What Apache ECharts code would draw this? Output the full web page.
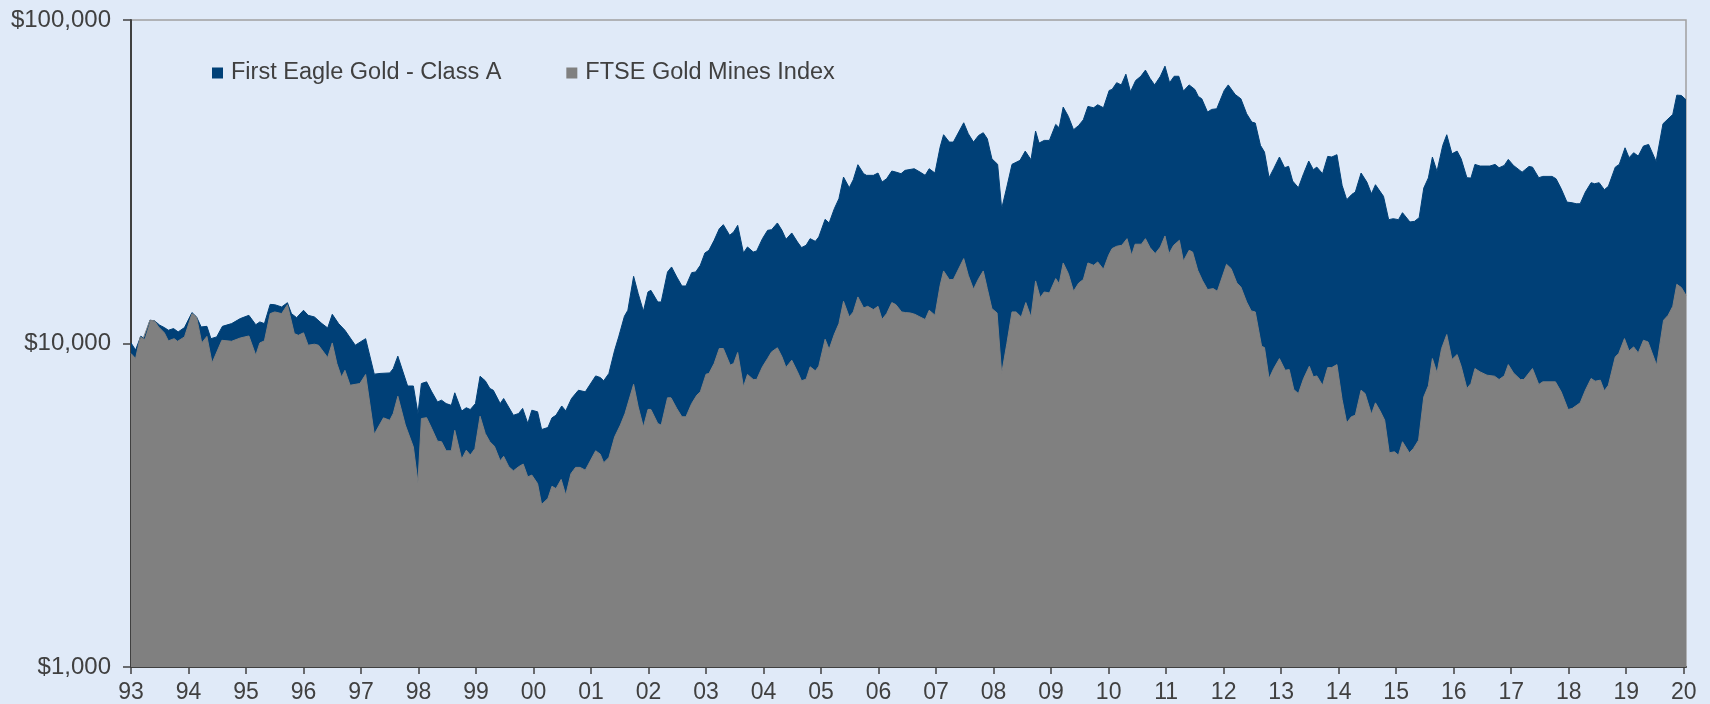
<!DOCTYPE html>
<html>
<head>
<meta charset="utf-8">
<script src="https://cdn.jsdelivr.net/npm/echarts@6/dist/echarts.min.js"></script>
<style>
  html, body { margin: 0; padding: 0; background: #e0eaf8; }
  #chart { width: 1710px; height: 704px; }
</style>
</head>
<body>
<div id="chart"></div>
<script>
// growth of $10,000, [year, value]
var firstEagle = [
  [1993.00,10040],[1993.08,9550],[1993.17,10530],[1993.23,10360],[1993.33,11800],[1993.41,11750],[1993.50,11390],[1993.58,11200],
  [1993.65,10990],[1993.74,11120],[1993.82,10860],[1993.93,11200],[1994.06,12460],[1994.14,12080],[1994.22,11250],[1994.32,11300],
  [1994.39,10350],[1994.49,10480],[1994.59,11300],[1994.75,11520],[1994.90,11940],[1995.05,12220],[1995.17,11430],[1995.24,11660],
  [1995.32,11520],[1995.42,13210],[1995.50,13180],[1995.62,12970],[1995.72,13370],[1995.79,12370],[1995.88,12020],[1996.00,12670],
  [1996.08,12220],[1996.19,12080],[1996.32,11520],[1996.42,11170],[1996.50,12310],[1996.61,11520],[1996.72,10990],[1996.90,9880],
  [1997.08,10350],[1997.23,8040],[1997.33,8080],[1997.50,8110],[1997.56,8360],[1997.64,9140],[1997.81,7390],[1997.91,7390],
  [1997.99,6075],[1998.05,7520],[1998.14,7610],[1998.23,7090],[1998.33,6600],[1998.40,6680],[1998.48,6520],[1998.57,6440],
  [1998.63,7040],[1998.75,6180],[1998.83,6330],[1998.90,6250],[1998.99,6520],[1999.07,7920],[1999.16,7670],[1999.24,7260],
  [1999.30,7170],[1999.42,6520],[1999.48,6760],[1999.65,6000],[1999.74,6075],[1999.81,6300],[1999.90,5660],[1999.97,6220],
  [2000.07,6150],[2000.14,5420],[2000.25,5500],[2000.32,5890],[2000.39,6000],[2000.49,6410],[2000.56,6190],[2000.66,6760],
  [2000.78,7170],[2000.90,7090],[2001.08,7940],[2001.16,7850],[2001.22,7670],[2001.31,8080],[2001.41,9530],[2001.48,10480],
  [2001.58,12140],[2001.64,12670],[2001.74,16130],[2001.82,14260],[2001.91,12580],[2001.99,14430],[2002.04,14600],[2002.16,13440],
  [2002.22,13440],[2002.33,16640],[2002.40,17240],[2002.49,16060],[2002.58,15060],[2002.65,15060],[2002.75,16560],[2002.82,16640],
  [2002.90,17450],[2002.98,19050],[2003.05,19410],[2003.14,20840],[2003.23,22640],[2003.30,23300],[2003.41,21600],[2003.48,22120],
  [2003.55,23190],[2003.65,19050],[2003.72,19880],[2003.82,19180],[2003.88,19320],[2003.98,21090],[2004.07,22380],[2004.14,22480],
  [2004.24,23580],[2004.32,22380],[2004.39,20990],[2004.49,21960],[2004.59,20590],[2004.66,19790],[2004.74,20120],[2004.81,21090],
  [2004.90,20690],[2004.96,21340],[2005.07,24200],[2005.14,23580],[2005.23,26110],[2005.31,28030],[2005.39,32690],[2005.49,30310],
  [2005.56,32080],[2005.64,35700],[2005.74,33490],[2005.79,33100],[2005.91,33100],[2005.99,33650],[2006.06,31560],[2006.14,32320],
  [2006.23,34130],[2006.30,33880],[2006.39,33490],[2006.46,34290],[2006.62,34690],[2006.72,33880],[2006.81,33100],[2006.88,34690],
  [2006.98,33640],[2007.07,40470],[2007.13,44190],[2007.23,41940],[2007.30,41940],[2007.48,48120],[2007.56,44500],[2007.65,41940],
  [2007.74,43980],[2007.82,44820],[2007.89,42950],[2007.97,37250],[2008.07,35790],[2008.14,26110],[2008.23,30460],[2008.32,35790],
  [2008.46,36820],[2008.55,39330],[2008.65,36990],[2008.73,45350],[2008.79,41640],[2008.88,42440],[2008.97,42440],[2009.08,47560],
  [2009.14,46440],[2009.21,53800],[2009.30,50350],[2009.39,45790],[2009.48,47210],[2009.56,49160],[2009.64,54050],[2009.74,53540],
  [2009.81,54700],[2009.91,53540],[2010.01,60560],[2010.06,61000],[2010.14,64000],[2010.22,63000],[2010.30,68000],[2010.38,60000],
  [2010.47,65000],[2010.56,67000],[2010.64,70000],[2010.72,66000],[2010.80,63000],[2010.90,67000],[2010.98,72000],[2011.06,64000],
  [2011.14,67000],[2011.22,67000],[2011.30,60300],[2011.40,63000],[2011.50,61000],[2011.56,58030],[2011.62,57070],[2011.72,51920],
  [2011.79,52910],[2011.88,53160],[2012.01,60560],[2012.08,63000],[2012.20,58870],[2012.30,57070],[2012.40,51310],[2012.49,48360],
  [2012.55,48020],[2012.64,40970],[2012.71,39060],[2012.79,32550],[2012.87,34700],[2012.97,37710],[2013.06,34950],[2013.13,35280],
  [2013.20,31780],[2013.30,30310],[2013.39,33490],[2013.48,36640],[2013.56,34450],[2013.62,35100],[2013.72,33490],[2013.81,37880],
  [2013.88,37710],[2013.97,38340],[2014.06,30820],[2014.14,27830],[2014.23,28910],[2014.29,29390],[2014.39,33650],[2014.49,31560],
  [2014.57,29040],[2014.64,30960],[2014.78,28500],[2014.87,24140],[2014.95,24310],[2015.04,24140],[2015.11,25370],[2015.24,23750],
  [2015.32,23860],[2015.40,24490],[2015.48,30240],[2015.56,32500],[2015.63,37690],[2015.71,34040],[2015.81,40950],[2015.88,44190],
  [2015.97,38590],[2016.06,39330],[2016.13,37240],[2016.23,32540],[2016.30,32460],[2016.37,35780],[2016.46,35360],[2016.63,35360],
  [2016.72,35780],[2016.79,34940],[2016.88,35520],[2016.95,37070],[2017.04,35520],[2017.19,33860],[2017.31,35260],[2017.37,35090],
  [2017.48,32540],[2017.55,32850],[2017.71,32850],[2017.78,32310],[2017.87,30090],[2017.97,27360],[2018.06,27230],[2018.13,27040],
  [2018.20,27040],[2018.29,29380],[2018.39,31410],[2018.45,31180],[2018.53,31410],[2018.62,29880],[2018.69,30600],[2018.81,35090],
  [2018.88,35780],[2018.98,40270],[2019.05,37510],[2019.13,38880],[2019.21,37960],[2019.30,40760],[2019.39,41250],[2019.52,36550],
  [2019.64,47780],[2019.81,51050],[2019.88,58580],[2019.96,58440],[2020.04,56670]
];

var ftseGoldMines = [
  [1993.00,9310],[1993.08,8990],[1993.16,10480],[1993.21,10350],[1993.33,11800],[1993.41,11750],[1993.48,11250],[1993.58,10790],
  [1993.65,10190],[1993.75,10350],[1993.81,10160],[1993.93,10480],[1994.06,12370],[1994.14,12080],[1994.23,10040],[1994.32,10520],
  [1994.41,8710],[1994.58,10230],[1994.75,10160],[1994.90,10400],[1995.05,10550],[1995.17,9200],[1995.24,10040],[1995.32,10190],
  [1995.42,12370],[1995.50,12520],[1995.62,12370],[1995.72,13180],[1995.84,10730],[1995.91,10600],[1996.00,10790],[1996.08,9880],
  [1996.19,9950],[1996.26,9880],[1996.42,9050],[1996.50,10040],[1996.58,8670],[1996.66,7880],[1996.72,8260],[1996.81,7430],
  [1996.98,7520],[1997.08,8020],[1997.23,5240],[1997.39,5890],[1997.50,5790],[1997.56,6075],[1997.64,6870],[1997.77,5600],
  [1997.91,4790],[1997.99,3720],[1998.05,5860],[1998.14,5900],[1998.23,5460],[1998.33,4990],[1998.40,4970],[1998.48,4660],
  [1998.57,4660],[1998.63,5390],[1998.75,4390],[1998.83,4680],[1998.90,4520],[1998.98,4730],[1999.07,5960],[1999.16,5270],
  [1999.24,4970],[1999.32,4810],[1999.42,4340],[1999.48,4480],[1999.57,4160],[1999.65,4040],[1999.74,4160],[1999.82,4240],
  [1999.90,3870],[1999.97,3920],[2000.07,3690],[2000.14,3180],[2000.25,3320],[2000.32,3620],[2000.39,3560],[2000.48,3800],
  [2000.56,3400],[2000.65,3960],[2000.73,4140],[2000.81,4140],[2000.90,4060],[2001.08,4660],[2001.16,4550],[2001.22,4280],
  [2001.31,4440],[2001.41,5145],[2001.51,5600],[2001.59,6075],[2001.74,7480],[2001.82,6370],[2001.91,5520],[2001.99,6254],
  [2002.04,6254],[2002.16,5658],[2002.22,5594],[2002.33,6795],[2002.39,6795],[2002.49,6300],[2002.58,5935],[2002.65,5935],
  [2002.75,6526],[2002.84,6925],[2002.90,7090],[2003.00,8040],[2003.05,8078],[2003.14,8675],[2003.23,9650],[2003.30,9650],
  [2003.42,8575],[2003.48,8675],[2003.55,9380],[2003.65,7345],[2003.72,8022],[2003.82,7742],[2003.88,7742],[2003.98,8472],
  [2004.07,8990],[2004.14,9425],[2004.24,9700],[2004.32,9096],[2004.39,8432],[2004.49,8882],[2004.59,8175],[2004.66,7669],
  [2004.74,7760],[2004.81,8472],[2004.90,8233],[2004.96,8511],[2005.07,10306],[2005.14,9595],[2005.23,10680],[2005.31,11520],
  [2005.39,13505],[2005.49,12080],[2005.56,12520],[2005.64,13930],[2005.74,12880],[2005.81,13030],[2005.91,12730],[2005.99,13030],
  [2006.06,11880],[2006.14,12370],[2006.23,13380],[2006.30,13190],[2006.40,12520],[2006.47,12460],[2006.55,12430],[2006.63,12310],
  [2006.72,12080],[2006.81,11860],[2006.88,12670],[2006.98,12230],[2007.07,15130],[2007.13,16760],[2007.23,15760],[2007.30,15760],
  [2007.48,18300],[2007.56,16250],[2007.65,14710],[2007.74,15870],[2007.82,16760],[2007.89,14780],[2007.97,12820],[2008.06,12430],
  [2008.14,8075],[2008.23,9995],[2008.32,12520],[2008.39,12520],[2008.48,12080],[2008.56,13380],[2008.65,12080],[2008.73,15610],
  [2008.81,13870],[2008.88,14430],[2008.97,14330],[2009.08,15870],[2009.14,15310],[2009.21,17740],[2009.30,16440],[2009.39,14500],
  [2009.48,15380],[2009.56,15760],[2009.64,17740],[2009.74,17450],[2009.81,17870],[2009.91,16960],[2010.00,18740],[2010.06,19650],
  [2010.14,19980],[2010.23,20120],[2010.32,21090],[2010.40,18740],[2010.46,20270],[2010.57,20270],[2010.64,21090],[2010.72,19790],
  [2010.81,18960],[2010.90,19880],[2010.98,21500],[2011.05,18950],[2011.13,20110],[2011.23,20840],[2011.30,17980],[2011.40,19410],
  [2011.46,19180],[2011.55,16840],[2011.63,15680],[2011.72,14680],[2011.82,14780],[2011.89,14500],[2012.05,17570],[2012.13,17040],
  [2012.23,15380],[2012.30,14950],[2012.40,13440],[2012.48,12610],[2012.55,12520],[2012.66,9806],[2012.71,9714],[2012.79,7792],
  [2012.87,8365],[2012.97,8981],[2013.07,8266],[2013.14,8305],[2013.22,7205],[2013.30,7003],[2013.39,7792],[2013.49,8503],
  [2013.56,7886],[2013.62,7941],[2013.72,7430],[2013.81,8424],[2013.88,8424],[2013.97,8606],[2014.06,6711],[2014.14,5685],
  [2014.22,5934],[2014.29,6004],[2014.39,7172],[2014.46,7003],[2014.57,6047],[2014.64,6554],[2014.72,6193],[2014.80,5795],
  [2014.88,4593],[2014.97,4626],[2015.04,4517],[2015.11,4969],[2015.23,4593],[2015.30,4737],[2015.39,5027],[2015.48,6839],
  [2015.56,7400],[2015.63,8984],[2015.71,8114],[2015.79,9650],[2015.88,10660],[2015.97,8923],[2016.06,9245],[2016.13,8506],
  [2016.23,7260],[2016.30,7521],[2016.37,8368],[2016.46,8171],[2016.58,7980],[2016.71,7924],[2016.79,7738],[2016.88,7942],
  [2016.95,8606],[2017.04,8111],[2017.16,7738],[2017.22,7738],[2017.37,8368],[2017.48,7469],[2017.55,7612],[2017.77,7612],
  [2017.87,7088],[2017.99,6251],[2018.06,6296],[2018.20,6555],[2018.29,7174],[2018.39,7795],[2018.46,7649],[2018.55,7702],
  [2018.62,7140],[2018.69,7431],[2018.81,9092],[2018.87,9310],[2018.97,10356],[2019.05,9488],[2019.13,9760],[2019.21,9354],
  [2019.30,10234],[2019.38,10114],[2019.53,8567],[2019.65,11800],[2019.73,12230],[2019.81,13030],[2019.88,15240],[2019.96,14890],
  [2020.04,14090]
];

var years = [];
for (var y = 1993; y <= 2020; y++) years.push(y);

var seriesNames = ['First Eagle Gold - Class A', 'FTSE Gold Mines Index'];
var seriesColors = ['#004077', '#808080'];

var myChart = echarts.init(document.getElementById('chart'));

var font = '"Liberation Sans", Arial, sans-serif';
var ink = '#404040';

var option = {
    backgroundColor: '#e0eaf8',
    animation: false,
    textStyle: { fontFamily: font },
    legend: {
        left: 207,
        top: 56,
        itemWidth: 11,
        itemHeight: 11,
        itemGap: 65,
        icon: 'rect',
        data: seriesNames,
        textStyle: { fontSize: 23.5, color: ink, fontFamily: font, padding: [0, 0, 0, 3] }
    },
    grid: {
        left: 131, right: 24, top: 20, bottom: 37,
        show: true,
        borderColor: '#a0a0a0',
        borderWidth: 1.5,
        backgroundColor: 'transparent'
    },
    xAxis: {
        type: 'value',
        min: 1993,
        max: 2020.04,
        axisLine: { show: true, lineStyle: { color: ink, width: 2 } },
        axisTick: {
            show: true, length: 7, customValues: years,
            lineStyle: { color: ink, width: 1.5 }
        },
        axisLabel: {
            customValues: years,
            fontSize: 23, color: ink, margin: 14, fontFamily: font,
            formatter: function (v) { return String(Math.round(v)).slice(2); }
        },
        splitLine: { show: false }
    },
    yAxis: {
        type: 'log',
        logBase: 10,
        min: 1000,
        max: 100000,
        axisLine: { show: true, lineStyle: { color: ink, width: 2 } },
        axisTick: { show: true, length: 8, lineStyle: { color: ink, width: 1.5 } },
        axisLabel: {
            fontSize: 24, color: ink, margin: 20, fontFamily: font,
            formatter: function (v) { return '$' + Math.round(v).toLocaleString('en-US'); }
        },
        splitLine: { show: false }
    },
    series: [
        {
            name: seriesNames[0],
            type: 'line',
            data: firstEagle,
            showSymbol: false,
            color: seriesColors[0],
            lineStyle: { width: 1, color: seriesColors[0] },
            areaStyle: { color: seriesColors[0], opacity: 1, origin: 'start' }
        },
        {
            name: seriesNames[1],
            type: 'line',
            data: ftseGoldMines,
            showSymbol: false,
            color: seriesColors[1],
            lineStyle: { width: 1, color: seriesColors[1] },
            areaStyle: { color: seriesColors[1], opacity: 1, origin: 'start' }
        }
    ]
};

myChart.setOption(option);
window.addEventListener('resize', function () { myChart.resize(); });
</script>
</body>
</html>
